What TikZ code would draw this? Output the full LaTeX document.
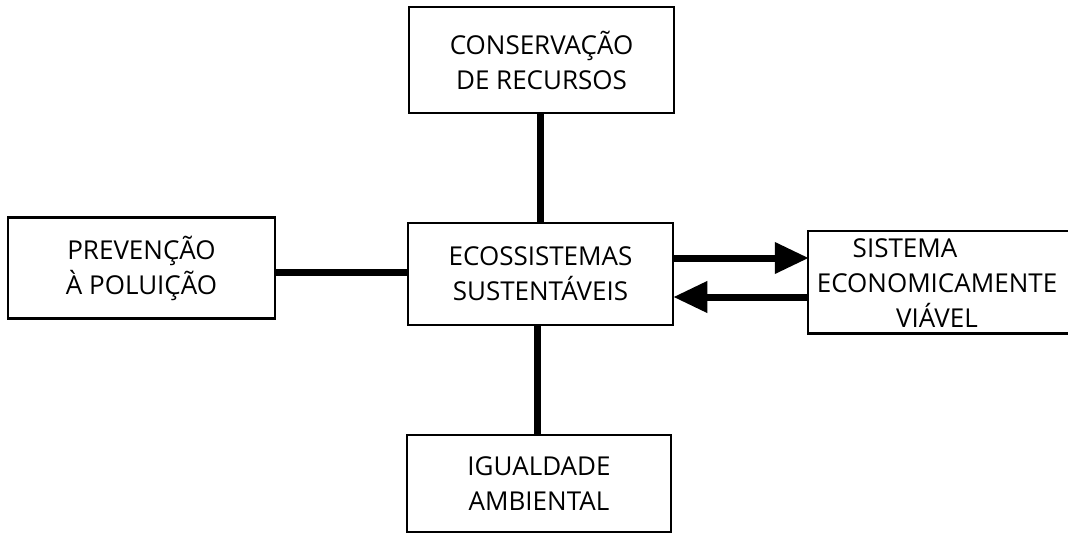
\documentclass[tikz,border=0pt]{standalone}
\usepackage{fontspec}
\setmainfont{Open Sans}
\usetikzlibrary{arrows.meta}
\tikzset{
  txt/.style={inner sep=0pt, align=center, font=\fontsize{26}{35}\selectfont},
  blk/.style={draw, line width=2.6pt, rectangle, txt},
  link/.style={line width=7pt},
  flow/.style={line width=7pt, -{Triangle[length=34pt,width=30pt]}, shorten >=-1pt}
}
\begin{document}
\begin{tikzpicture}[x=1pt,y=-1pt]
\useasboundingbox (0,0) rectangle (1068,536);
\node[blk, minimum width=265pt, minimum height=106pt] (top) at (541.5,60) {CONSERVAÇÃO\\DE RECURSOS};
\node[blk, minimum width=265pt, minimum height=102pt] (eco) at (540.5,274) {ECOSSISTEMAS\\SUSTENTÁVEIS};
\node[blk, minimum width=267pt, minimum height=101pt] (prev) at (141.5,268) {PREVENÇÃO\\À POLUIÇÃO};
\node[txt, minimum width=300pt, minimum height=102pt] (eco2) at (958,282) {};
\draw[line width=2.6pt] ([xshift=40pt]eco2.north east) -- (eco2.north west) -- (eco2.south west) -- ([xshift=40pt]eco2.south east);
\node[txt] (eco2t) at (937,283) {SISTEMA\hspace*{64pt}\\ECONOMICAMENTE\\VIÁVEL};
\node[blk, minimum width=264pt, minimum height=97pt] (igu) at (539,483.5) {IGUALDADE\\AMBIENTAL};
\draw[link] (top.south -| 540,0) -- (eco.north -| 540,0);
\draw[link] (eco.south -| 537,0) -- (igu.north -| 537,0);
\draw[link] ([yshift=-4pt]prev.east) -- ([yshift=-4pt]prev.east -| eco.west);
\draw[flow] ([yshift=16pt]eco.east) -- ([yshift=16pt]eco.east -| eco2.west);
\draw[flow] ([yshift=-23pt]eco.east -| eco2.west) -- ([yshift=-23pt]eco.east);
\end{tikzpicture}
\end{document}
